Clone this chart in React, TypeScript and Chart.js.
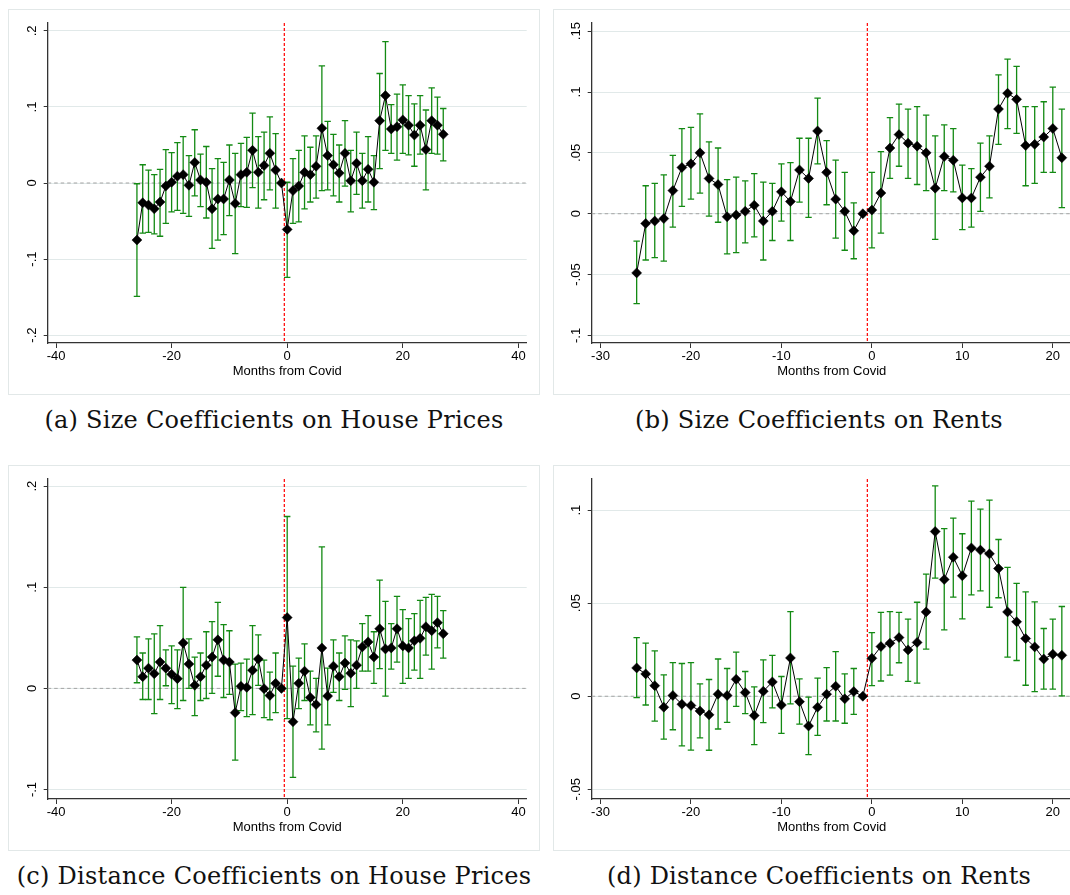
import React, { useEffect, useRef } from "react";
import { Chart, registerables } from "chart.js";

Chart.register(...registerables);

// Event-time axis (months relative to the Covid onset)
const monthsHouse = [
  -26, -25, -24, -23, -22, -21, -20, -19, -18, -17, -16, -15, -14, -13, -12, -11, -10, -9, -8, -7, -6, -5, -4, -3, -2, -1,
  0, 1, 2, 3, 4, 5, 6, 7, 8, 9, 10, 11, 12, 13, 14, 15, 16, 17, 18, 19, 20, 21, 22, 23, 24, 25, 26, 27,
];
const monthsRent = [
  -26, -25, -24, -23, -22, -21, -20, -19, -18, -17, -16, -15, -14, -13, -12, -11, -10, -9, -8, -7, -6, -5, -4, -3, -2, -1,
  0, 1, 2, 3, 4, 5, 6, 7, 8, 9, 10, 11, 12, 13, 14, 15, 16, 17, 18, 19, 20, 21,
];

// (a) Size coefficients on house prices
const sizeHouseCoef = [
  -0.075, -0.026, -0.029, -0.034, -0.025, -0.004, 0.001, 0.009, 0.011, -0.003, 0.027, 0.004, 0.001, -0.034, -0.021, -0.021,
  0.004, -0.027, 0.011, 0.014, 0.043, 0.014, 0.023, 0.039, 0.017, 0,
  -0.061, -0.01, -0.004, 0.014, 0.011, 0.022, 0.072, 0.036, 0.024, 0.013, 0.039, 0.003, 0.026, 0.003, 0.018, 0.001, 0.082,
  0.115, 0.071, 0.074, 0.083, 0.076, 0.063, 0.076, 0.044, 0.082, 0.076, 0.064,
];
const sizeHouseHi = [
  -0.001, 0.024, 0.017, 0.011, 0.018, 0.044, 0.04, 0.053, 0.061, 0.036, 0.07, 0.038, 0.048, 0.019, 0.032, 0.027, 0.05, 0.039,
  0.052, 0.06, 0.092, 0.061, 0.067, 0.087, 0.065, null,
  0.001, 0.032, 0.043, 0.062, 0.047, 0.062, 0.154, 0.081, 0.064, 0.05, 0.082, 0.043, 0.067, 0.039, 0.061, 0.036, 0.144, 0.186,
  0.103, 0.117, 0.129, 0.115, 0.104, 0.115, 0.096, 0.125, 0.113, 0.098,
];
const sizeHouseLo = [
  -0.149, -0.066, -0.065, -0.067, -0.07, -0.053, -0.038, -0.036, -0.04, -0.044, -0.017, -0.031, -0.046, -0.086, -0.075, -0.068,
  -0.043, -0.093, -0.031, -0.032, -0.006, -0.033, -0.022, -0.009, -0.033, null,
  -0.124, -0.053, -0.051, -0.034, -0.025, -0.02, -0.01, -0.009, -0.017, -0.025, -0.004, -0.038, -0.015, -0.033, -0.025, -0.035,
  0.019, 0.043, 0.039, 0.03, 0.039, 0.037, 0.022, 0.038, -0.009, 0.039, 0.038, 0.029,
];

// (b) Size coefficients on rents
const sizeRentCoef = [
  -0.0486, -0.008, -0.006, -0.004, 0.019, 0.038, 0.041, 0.05, 0.029, 0.024, -0.0025, -0.001, 0.002, 0.007, -0.006, 0.002,
  0.018, 0.01, 0.036, 0.029, 0.068, 0.034, 0.012, 0.002, -0.014, 0,
  0.003, 0.017, 0.054, 0.065, 0.058, 0.0555, 0.05, 0.021, 0.047, 0.044, 0.013, 0.013, 0.03, 0.039, 0.086, 0.099, 0.094,
  0.056, 0.057, 0.063, 0.07, 0.046,
];
const sizeRentHi = [
  -0.0225, 0.023, 0.025, 0.032, 0.048, 0.07, 0.071, 0.082, 0.059, 0.054, 0.028, 0.03, 0.027, 0.033, 0.026, 0.025, 0.041,
  0.042, 0.062, 0.062, 0.095, 0.06, 0.044, 0.034, 0.009, null,
  0.034, 0.051, 0.079, 0.09, 0.086, 0.088, 0.081, 0.064, 0.073, 0.07, 0.04, 0.037, 0.058, 0.064, 0.114, 0.127, 0.121, 0.088,
  0.088, 0.092, 0.104, 0.086,
];
const sizeRentLo = [
  -0.0739, -0.038, -0.036, -0.039, -0.011, 0.006, 0.012, 0.017, -0.002, -0.007, -0.033, -0.032, -0.024, -0.019, -0.038,
  -0.022, -0.006, -0.022, 0.0096, -0.003, 0.041, 0.0074, -0.02, -0.03, -0.037, null,
  -0.028, -0.016, 0.029, 0.039, 0.029, 0.024, 0.019, -0.021, 0.019, 0.018, -0.013, -0.011, 0.002, 0.013, 0.057, 0.07, 0.066,
  0.023, 0.025, 0.034, 0.034, 0.005,
];

// (c) Distance coefficients on house prices
const distHouseCoef = [
  0.028, 0.0116, 0.02, 0.0145, 0.026, 0.02, 0.014, 0.0096, 0.045, 0.024, 0.003, 0.0116, 0.023, 0.031, 0.048, 0.028, 0.026,
  -0.024, 0.002, 0.001, 0.018, 0.029, -0.0003, -0.007, 0.005, 0,
  0.07, -0.033, 0.005, 0.017, -0.009, -0.016, 0.04, -0.0076, 0.022, 0.0116, 0.025, 0.015, 0.023, 0.041, 0.046, 0.031, 0.059,
  0.039, 0.04, 0.059, 0.042, 0.04, 0.047, 0.0495, 0.061, 0.057, 0.065, 0.054,
];
const distHouseHi = [
  0.051, 0.035, 0.049, 0.054, 0.062, 0.038, 0.042, 0.038, 0.1, 0.049, 0.031, 0.035, 0.056, 0.066, 0.085, 0.063, 0.057, 0.024,
  0.025, 0.029, 0.062, 0.053, 0.028, 0.016, 0.035, null,
  0.17, 0.022, 0.03, 0.044, 0.017, 0.01, 0.14, 0.02, 0.048, 0.035, 0.052, 0.048, 0.047, 0.064, 0.072, 0.056, 0.107, 0.086,
  0.064, 0.091, 0.078, 0.069, 0.074, 0.087, 0.09, 0.093, 0.091, 0.077,
];
const distHouseLo = [
  0.0056, -0.011, -0.011, -0.025, -0.011, 0.0026, -0.015, -0.02, -0.012, 0.0, -0.027, -0.012, -0.01, -0.005, 0.012, -0.009,
  -0.006, -0.071, -0.022, -0.028, -0.026, 0.003, -0.029, -0.031, -0.024, null,
  -0.03, -0.088, -0.02, -0.012, -0.036, -0.043, -0.06, -0.036, -0.004, -0.012, -0.001, -0.018, 0.0, 0.017, 0.017, 0.005,
  0.0195, -0.0076, 0.019, 0.026, 0.005, 0.01, 0.018, 0.01, 0.033, 0.019, 0.04, 0.03,
];

// (d) Distance coefficients on rents
const distRentCoef = [
  0.0152, 0.012, 0.0057, -0.0059, 0.0004, -0.0043, -0.005, -0.0079, -0.01, 0.0011, 0.0004, 0.0091, 0.002, -0.0104, 0.0027,
  0.0077, -0.0047, 0.0206, -0.0029, -0.016, -0.0059, 0.0011, 0.0054, -0.0014, 0.0025, 0,
  0.0204, 0.0267, 0.0285, 0.0315, 0.0249, 0.0289, 0.0453, 0.0885, 0.0627, 0.0747, 0.0647, 0.0797, 0.0785, 0.0765, 0.0686,
  0.0453, 0.04, 0.031, 0.0265, 0.02, 0.0226, 0.022,
];
const distRentHi = [
  0.0315, 0.0285, 0.0244, 0.0115, 0.0181, 0.0176, 0.0181, 0.0066, 0.009, 0.02, 0.0149, 0.0237, 0.0133, 0.005, 0.0195, 0.0219,
  0.0106, 0.0455, 0.0093, -0.0005, 0.0097, 0.0154, 0.024, 0.012, 0.0149, null,
  0.0342, 0.045, 0.0455, 0.045, 0.0414, 0.0505, 0.0656, 0.113, 0.09, 0.0957, 0.0873, 0.1048, 0.1005, 0.1054, 0.0842, 0.0692,
  0.0606, 0.0561, 0.0507, 0.0364, 0.0414, 0.0482,
];
const distRentLo = [
  -0.0007, -0.0047, -0.0134, -0.023, -0.018, -0.0267, -0.0289, -0.0224, -0.029, -0.0176, -0.014, -0.0054, -0.0093, -0.026,
  -0.0142, -0.0063, -0.02, -0.0041, -0.015, -0.0314, -0.021, -0.0133, -0.0133, -0.0145, -0.0097, null,
  0.0057, 0.0082, 0.0113, 0.018, 0.008, 0.007, 0.0253, 0.0634, 0.0357, 0.0532, 0.0416, 0.0545, 0.0566, 0.0478, 0.0529, 0.021,
  0.0192, 0.0059, 0.0025, 0.0038, 0.0038, 0.0002,
];

// Tick values and their printed labels
const xTicksHouse = [-40, -20, 0, 20, 40];
const xLabelsHouse = ["-40", "-20", "0", "20", "40"];
const xTicksRent = [-30, -20, -10, 0, 10, 20];
const xLabelsRent = ["-30", "-20", "-10", "0", "10", "20"];

const yTicksSizeHouse = [-0.2, -0.1, 0, 0.1, 0.2];
const yLabelsSizeHouse = ["-.2", "-.1", "0", ".1", ".2"];
const yTicksSizeRent = [-0.1, -0.05, 0, 0.05, 0.1, 0.15];
const yLabelsSizeRent = ["-.1", "-.05", "0", ".05", ".1", ".15"];
const yTicksDistHouse = [-0.1, 0, 0.1, 0.2];
const yLabelsDistHouse = ["-.1", "0", ".1", ".2"];
const yTicksDistRent = [-0.05, 0, 0.05, 0.1];
const yLabelsDistRent = ["-.05", "0", ".05", ".1"];

const covidLine = -0.5;
const xTitle = "Months from Covid";

const SANS = "'Liberation Sans', Arial, Helvetica, sans-serif";
const GREEN = "#138a13";
const AXIS = "#333333";
const GRID = "#e1e9e9";

const FRAME_W = 532;
const FRAME_H = 386;

type Panel = {
  months: number[];
  coef: number[];
  lo: (number | null)[];
  hi: (number | null)[];
  xMin: number;
  xMax: number;
  xTicks: number[];
  xLabels: string[];
  yMin: number;
  yMax: number;
  yTicks: number[];
  yLabels: string[];
  axisLeft: number;
  left: number;
  top: number;
  caption: string;
};

function CoefPanel({ p }: { p: Panel }) {
  const ref = useRef<HTMLCanvasElement | null>(null);

  useEffect(() => {
    const canvas = ref.current;
    if (!canvas) return;

    const refLines = {
      id: "refLines",
      beforeDatasetsDraw(chart: any) {
        const { ctx, chartArea, scales } = chart;
        const y0 = scales.y.getPixelForValue(0);
        const xv = scales.x.getPixelForValue(covidLine);
        ctx.save();
        ctx.lineWidth = 1;
        ctx.strokeStyle = "#a3a3a3";
        ctx.setLineDash([3.5, 3]);
        ctx.beginPath();
        ctx.moveTo(chartArea.left, y0);
        ctx.lineTo(chartArea.right, y0);
        ctx.stroke();
        ctx.strokeStyle = "#ff0000";
        ctx.lineWidth = 1.2;
        ctx.setLineDash([3, 2]);
        ctx.beginPath();
        ctx.moveTo(xv, chartArea.top);
        ctx.lineTo(xv, chartArea.bottom);
        ctx.stroke();
        ctx.restore();
      },
    };

    const errorBars = {
      id: "errorBars",
      beforeDatasetsDraw(chart: any) {
        const { ctx, scales } = chart;
        ctx.save();
        ctx.strokeStyle = GREEN;
        ctx.lineWidth = 1.3;
        p.months.forEach((m, i) => {
          const l = p.lo[i];
          const h = p.hi[i];
          if (l == null || h == null) return;
          const px = scales.x.getPixelForValue(m);
          const pl = scales.y.getPixelForValue(l);
          const ph = scales.y.getPixelForValue(h);
          ctx.beginPath();
          ctx.moveTo(px, pl);
          ctx.lineTo(px, ph);
          ctx.moveTo(px - 3.2, pl);
          ctx.lineTo(px + 3.2, pl);
          ctx.moveTo(px - 3.2, ph);
          ctx.lineTo(px + 3.2, ph);
          ctx.stroke();
        });
        ctx.restore();
      },
    };

    // vertical (bottom-to-top) value labels on the y axis
    const yTickText = {
      id: "yTickText",
      afterDraw(chart: any) {
        const { ctx, chartArea, scales } = chart;
        ctx.save();
        ctx.fillStyle = "#000";
        ctx.font = `13px ${SANS}`;
        ctx.textAlign = "center";
        ctx.textBaseline = "alphabetic";
        const cx = chartArea.left - 16.5;
        p.yTicks.forEach((v, i) => {
          const py = scales.y.getPixelForValue(v);
          ctx.save();
          ctx.translate(cx + 4.6, py);
          ctx.rotate(-Math.PI / 2);
          ctx.fillText(p.yLabels[i], 0, 0);
          ctx.restore();
        });
        ctx.restore();
      },
    };

    const chart = new Chart(canvas, {
      type: "line",
      data: {
        datasets: [
          {
            data: p.months.map((m, i) => ({ x: m, y: p.coef[i] })),
            borderColor: "#000",
            borderWidth: 1,
            tension: 0,
            pointStyle: "rectRot",
            pointRadius: 5,
            pointBackgroundColor: "#000",
            pointBorderColor: "#000",
            pointBorderWidth: 0.5,
          },
        ],
      },
      options: {
        animation: false,
        responsive: false,
        maintainAspectRatio: false,
        events: [],
        layout: { padding: { top: 14, right: FRAME_W - 518.7, left: 0, bottom: 0 } },
        plugins: { legend: { display: false }, tooltip: { enabled: false } },
        scales: {
          x: {
            type: "linear",
            min: p.xMin,
            max: p.xMax,
            afterBuildTicks: (s: any) => {
              s.ticks = p.xTicks.map((v) => ({ value: v }));
            },
            afterFit: (s: any) => {
              s.height = FRAME_H - 334;
            },
            ticks: {
              autoSkip: false,
              maxRotation: 0,
              padding: 1,
              color: "#000",
              font: { family: SANS, size: 13 },
              callback: (v: any) => {
                const k = p.xTicks.indexOf(Number(v));
                return k >= 0 ? p.xLabels[k] : "";
              },
            },
            grid: {
              display: true,
              drawOnChartArea: false,
              drawTicks: true,
              tickLength: 5,
              tickColor: AXIS,
              tickWidth: 1,
            },
            border: { display: true, color: AXIS, width: 1.3 },
            title: {
              display: true,
              text: xTitle,
              color: "#000",
              font: { family: SANS, size: 13 },
              padding: { top: 0, bottom: 16 },
            },
          },
          y: {
            type: "linear",
            min: p.yMin,
            max: p.yMax,
            afterBuildTicks: (s: any) => {
              s.ticks = p.yTicks.map((v) => ({ value: v }));
            },
            afterFit: (s: any) => {
              s.width = p.axisLeft;
            },
            ticks: { display: false },
            grid: {
              display: true,
              color: GRID,
              lineWidth: 1,
              drawTicks: true,
              tickLength: 4,
              tickColor: AXIS,
              tickWidth: 1,
            },
            border: { display: true, color: AXIS, width: 1.3 },
          },
        },
      },
      plugins: [refLines, errorBars, yTickText],
    } as any);

    return () => chart.destroy();
  }, [p]);

  return (
    <>
      <div
        style={{
          position: "absolute",
          left: p.left,
          top: p.top,
          width: FRAME_W - 2,
          height: FRAME_H - 2,
          border: "1px solid #e2e8e8",
          background: "#fff",
        }}
      />
      <canvas
        ref={ref}
        width={FRAME_W}
        height={FRAME_H}
        style={{ position: "absolute", left: p.left, top: p.top, width: FRAME_W, height: FRAME_H }}
      />
      <div
        style={{
          position: "absolute",
          left: p.left,
          top: p.top + 399,
          width: FRAME_W,
          textAlign: "center",
          fontFamily: "'DejaVu Serif', serif",
          fontSize: 24,
          lineHeight: "24px",
          letterSpacing: "0.25px",
          color: "#111",
          whiteSpace: "nowrap",
        }}
      >
        {p.caption}
      </div>
    </>
  );
}

const panels: Panel[] = [
  {
    months: monthsHouse,
    coef: sizeHouseCoef,
    lo: sizeHouseLo,
    hi: sizeHouseHi,
    xMin: -41.44,
    xMax: 41.44,
    xTicks: xTicksHouse,
    xLabels: xLabelsHouse,
    yMin: -0.2104,
    yMax: 0.2104,
    yTicks: yTicksSizeHouse,
    yLabels: yLabelsSizeHouse,
    axisLeft: 39.7,
    left: 8,
    top: 9,
    caption: "(a) Size Coefficients on House Prices",
  },
  {
    months: monthsRent,
    coef: sizeRentCoef,
    lo: sizeRentLo,
    hi: sizeRentHi,
    xMin: -30.97,
    xMax: 22.09,
    xTicks: xTicksRent,
    xLabels: xLabelsRent,
    yMin: -0.1062,
    yMax: 0.1567,
    yTicks: yTicksSizeRent,
    yLabels: yLabelsSizeRent,
    axisLeft: 38.7,
    left: 553,
    top: 9,
    caption: "(b) Size Coefficients on Rents",
  },
  {
    months: monthsHouse,
    coef: distHouseCoef,
    lo: distHouseLo,
    hi: distHouseHi,
    xMin: -41.44,
    xMax: 41.44,
    xTicks: xTicksHouse,
    xLabels: xLabelsHouse,
    yMin: -0.1094,
    yMax: 0.2071,
    yTicks: yTicksDistHouse,
    yLabels: yLabelsDistHouse,
    axisLeft: 39.7,
    left: 8,
    top: 465,
    caption: "(c) Distance Coefficients on House Prices",
  },
  {
    months: monthsRent,
    coef: distRentCoef,
    lo: distRentLo,
    hi: distRentHi,
    xMin: -30.97,
    xMax: 22.09,
    xTicks: xTicksRent,
    xLabels: xLabelsRent,
    yMin: -0.0552,
    yMax: 0.1167,
    yTicks: yTicksDistRent,
    yLabels: yLabelsDistRent,
    axisLeft: 38.7,
    left: 553,
    top: 465,
    caption: "(d) Distance Coefficients on Rents",
  },
];

export default function App() {
  return (
    <div
      style={{
        position: "absolute",
        left: 0,
        top: 0,
        width: 1070,
        height: 895,
        overflow: "hidden",
        background: "#fff",
      }}
    >
      {panels.map((p, i) => (
        <CoefPanel key={i} p={p} />
      ))}
    </div>
  );
}
